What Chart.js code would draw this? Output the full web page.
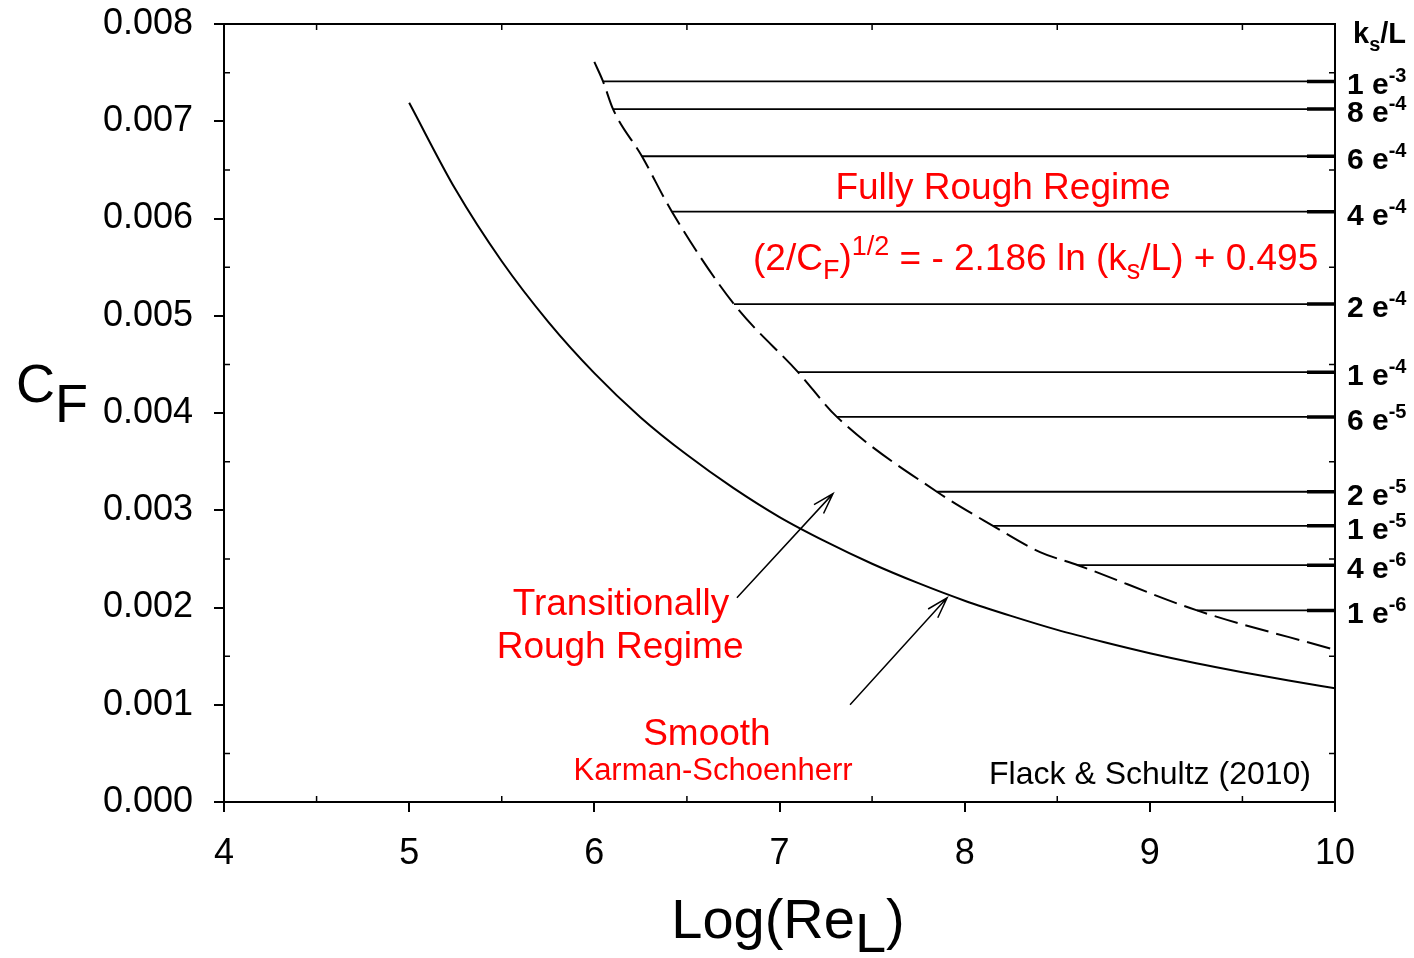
<!DOCTYPE html>
<html>
<head>
<meta charset="utf-8">
<script src="https://cdn.jsdelivr.net/npm/chart.js@4.4.1/dist/chart.umd.min.js"></script>
<style>
html, body { margin: 0; padding: 0; background: #fff; }
canvas { display: block; }
</style>
</head>
<body>
<canvas id="chart" width="1414" height="958"></canvas>
<script>
// axis ticks
const xTicks = [4, 5, 6, 7, 8, 9, 10];
const yTicks = [0, 0.001, 0.002, 0.003, 0.004, 0.005, 0.006, 0.007, 0.008];
const xMinor = [4.5, 5.5, 6.5, 7.5, 8.5, 9.5];
const yMinor = [0.0005, 0.0015, 0.0025, 0.0035, 0.0045, 0.0055, 0.0065, 0.0075];

// smooth wall (Karman-Schoenherr)
const smoothLogRe = [5, 5.25, 5.5, 5.75, 6, 6.25, 6.5, 6.75, 7, 7.25, 7.5, 7.75, 8, 8.25, 8.5, 8.75, 9, 9.25, 9.5, 9.75, 10];
const smoothCf = [0.00719, 0.0063, 0.00556, 0.00494, 0.00441, 0.003955, 0.00357, 0.00323, 0.00293, 0.002677, 0.00245,
    0.00225, 0.00207, 0.001914, 0.00177, 0.001645, 0.00153, 0.001427, 0.001335, 0.001249, 0.00117];

// fully rough boundary (dashed)
const roughLogRe = [6.0, 6.047, 6.101, 6.257, 6.419, 6.754, 7.100, 7.310, 7.850, 8.153, 8.407, 8.612, 9.255, 10.0];
const roughCf = [0.00761, 0.00741, 0.007125, 0.00664, 0.00607, 0.00512, 0.00442, 0.00396, 0.00319, 0.00284, 0.00257, 0.002435, 0.00197, 0.001565];

// ks/L levels: horizontal lines from the dashed curve to Log(Re)=10
const ksMant = ['1', '8', '6', '4', '2', '1', '6', '2', '1', '4', '1'];
const ksExp = ['-3', '-4', '-4', '-4', '-4', '-4', '-5', '-5', '-5', '-6', '-6'];
const ksStart = [6.047, 6.101, 6.257, 6.419, 6.754, 7.100, 7.310, 7.850, 8.153, 8.612, 9.255];
const ksCf = [0.00741, 0.007125, 0.00664, 0.00607, 0.00512, 0.00442, 0.00396, 0.00319, 0.00284, 0.002435, 0.00197];

const FONT = '"Liberation Sans", Arial, sans-serif';
const RED = '#ff0000';

const datasets = [];
datasets.push({
    data: smoothLogRe.map((x, i) => ({ x: x, y: smoothCf[i] })),
    borderColor: '#000', borderWidth: 2, pointRadius: 0,
    cubicInterpolationMode: 'monotone'
});
datasets.push({
    data: roughLogRe.map((x, i) => ({ x: x, y: roughCf[i] })),
    borderColor: '#000', borderWidth: 2, pointRadius: 0,
    borderDash: [24, 8], cubicInterpolationMode: 'monotone'
});
ksCf.forEach((cf, i) => {
    datasets.push({
        data: [{ x: ksStart[i], y: cf }, { x: 10, y: cf }],
        borderColor: '#000', borderWidth: 1.8, pointRadius: 0
    });
});

function arrow(ctx, x1, y1, x2, y2) {
    const a = Math.atan2(y1 - y2, x1 - x2);
    const len = 22, spread = 0.3;
    ctx.beginPath();
    ctx.moveTo(x1, y1);
    ctx.lineTo(x2, y2);
    ctx.moveTo(x2 + len * Math.cos(a + spread), y2 + len * Math.sin(a + spread));
    ctx.lineTo(x2, y2);
    ctx.lineTo(x2 + len * Math.cos(a - spread), y2 + len * Math.sin(a - spread));
    ctx.stroke();
}

// draw pieces of text one after another: [text, size, baselineShift]
function richText(ctx, parts, x, y, color, weight) {
    ctx.fillStyle = color;
    ctx.textAlign = 'left';
    ctx.textBaseline = 'alphabetic';
    let cx = x;
    parts.forEach(p => {
        ctx.font = (weight || '') + ' ' + p[1] + 'px ' + FONT;
        ctx.fillText(p[0], cx, y + p[2]);
        cx += ctx.measureText(p[0]).width;
    });
    return cx;
}

const extras = {
    id: 'extras',
    afterDraw(chart) {
        const ctx = chart.ctx;
        const area = chart.chartArea;
        const xs = chart.scales.x, ys = chart.scales.y;
        const px = v => xs.getPixelForValue(v);
        const py = v => ys.getPixelForValue(v);
        ctx.save();

        // frame top and right
        ctx.strokeStyle = '#000';
        ctx.lineWidth = 2;
        ctx.beginPath();
        ctx.moveTo(area.left - 1, area.top);
        ctx.lineTo(area.right, area.top);
        ctx.lineTo(area.right, area.bottom + 1);
        ctx.stroke();

        // inward minor ticks
        ctx.lineWidth = 1.5;
        ctx.beginPath();
        xMinor.forEach(v => {
            const x = px(v);
            ctx.moveTo(x, area.bottom); ctx.lineTo(x, area.bottom - 6);
            ctx.moveTo(x, area.top); ctx.lineTo(x, area.top + 6);
        });
        yMinor.forEach(v => {
            const y = py(v);
            ctx.moveTo(area.left, y); ctx.lineTo(area.left + 6, y);
            ctx.moveTo(area.right, y); ctx.lineTo(area.right - 6, y);
        });
        ctx.stroke();

        // thicker ends of the ks/L lines
        ctx.lineWidth = 3.5;
        ctx.beginPath();
        ksCf.forEach(cf => {
            const y = py(cf);
            ctx.moveTo(area.right - 28, y); ctx.lineTo(area.right, y);
        });
        ctx.stroke();

        // ks/L labels on the right
        ksCf.forEach((cf, i) => {
            const y = py(cf) + 13;
            richText(ctx, [[ksMant[i] + ' e', 30, 0], [ksExp[i], 20, -12]], area.right + 12, y, '#000', 'bold');
        });
        richText(ctx, [['k', 29, 0], ['s', 20, 8], ['/L', 29, 0]], area.right + 18, 43, '#000', 'bold');

        // axis titles
        richText(ctx, [['C', 54, 0], ['F', 54, 20]], 16, 402, '#000');
        ctx.font = '56px ' + FONT;
        const tw = ctx.measureText('Log(Re').width + ctx.measureText('L)').width;
        richText(ctx, [['Log(Re', 56, 0], ['L', 56, 14], [')', 56, 0]], 788 - tw / 2, 938, '#000');

        // red annotations
        ctx.fillStyle = RED;
        ctx.textAlign = 'center';
        ctx.textBaseline = 'middle';
        ctx.font = '37px ' + FONT;
        ctx.fillText('Fully Rough Regime', px(8.207), py(0.006301));
        ctx.fillText('Transitionally', px(6.144), py(0.002028));
        ctx.fillText('Rough Regime', px(6.139), py(0.001586));
        ctx.fillText('Smooth', px(6.608), py(0.000690));
        ctx.font = '31px ' + FONT;
        ctx.fillText('Karman-Schoenherr', px(6.641), py(0.000309));
        ctx.fillStyle = '#000';
        ctx.font = '32px ' + FONT;
        ctx.fillText('Flack & Schultz (2010)', px(9.001), py(0.000278));

        richText(ctx, [
            ['(2/C', 37, 0], ['F', 27, 9], [')', 37, 0], ['1/2', 27, -15],
            [' = - 2.186 ln (k', 37, 0], ['s', 27, 9], ['/L) + 0.495', 37, 0]
        ], px(6.857), py(0.005601) + 13, RED);

        // arrows
        ctx.strokeStyle = '#000';
        ctx.lineWidth = 1.5;
        arrow(ctx, px(6.770), py(0.002100), px(7.289), py(0.003171));
        arrow(ctx, px(7.381), py(0.000999), px(7.905), py(0.002100));

        ctx.restore();
    }
};

new Chart(document.getElementById('chart'), {
    type: 'line',
    data: { datasets: datasets },
    options: {
        responsive: false,
        animation: false,
        layout: { padding: { top: 24, right: 79, left: 0, bottom: 0 } },
        plugins: { legend: { display: false }, tooltip: { enabled: false } },
        scales: {
            x: {
                type: 'linear', min: 4, max: 10,
                afterBuildTicks: s => { s.ticks = xTicks.map(v => ({ value: v })); },
                afterFit: s => { s.height = 156; s.paddingLeft = 0; s.paddingRight = 0; },
                ticks: { color: '#000', font: { family: FONT, size: 36 }, padding: 20, maxRotation: 0, autoSkip: false },
                grid: { drawOnChartArea: false, drawTicks: true, tickLength: 10, color: '#000', lineWidth: 2 },
                border: { display: true, color: '#000', width: 2 }
            },
            y: {
                type: 'linear', min: 0, max: 0.008,
                afterBuildTicks: s => { s.ticks = yTicks.map(v => ({ value: v })); },
                afterFit: s => { s.width = 224; s.paddingTop = 0; s.paddingBottom = 0; },
                ticks: { color: '#000', font: { family: FONT, size: 36 }, padding: 21, autoSkip: false, callback: v => v.toFixed(3) },
                grid: { drawOnChartArea: false, drawTicks: true, tickLength: 10, color: '#000', lineWidth: 2 },
                border: { display: true, color: '#000', width: 2 }
            }
        }
    },
    plugins: [extras]
});
</script>
</body>
</html>
